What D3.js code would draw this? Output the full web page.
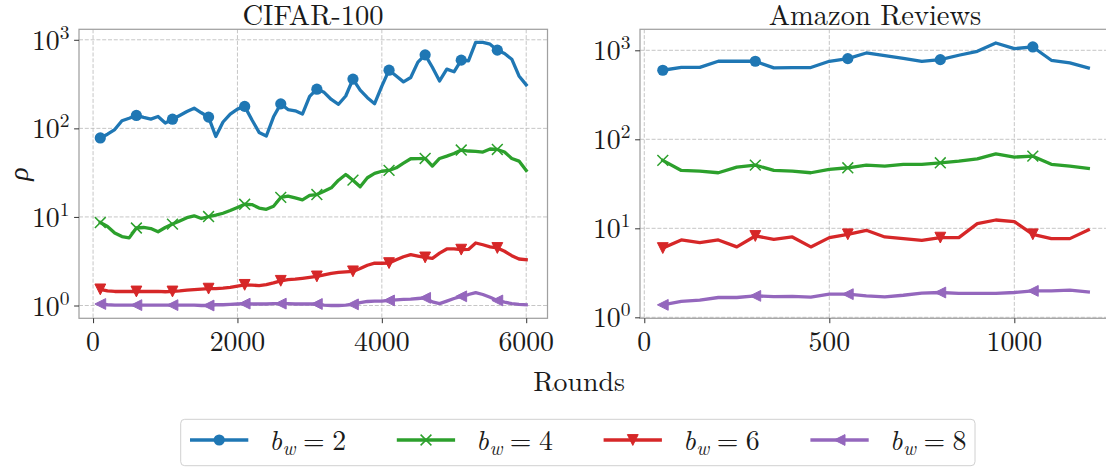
<!DOCTYPE html>
<html><head><meta charset="utf-8">
<script src="https://cdn.jsdelivr.net/npm/d3@7"></script>
<style>
body{margin:0;background:#fff}
svg{display:block}
text{font-family:"Latin Modern Roman","CMU Serif","Liberation Serif",serif;fill:#1a1a1a}
</style>
</head><body>
<svg id="chart" width="1106" height="467"></svg>
<script>
// ---------------- data ----------------
const cifarRounds = [100,200,300,400,500,600,700,800,900,1000,1100,1200,1300,1400,1500,1600,1700,1800,1900,2000,
  2100,2200,2300,2400,2500,2600,2700,2800,2900,3000,3100,3200,3300,3400,3500,3600,3700,3800,3900,4000,
  4100,4200,4300,4400,4500,4600,4700,4800,4900,5000,5100,5200,5300,5400,5500,5600,5700,5800,5900,6000];
const cifarB2 = [78,86,97,122,130,140,133,127,136,115,127,140,155,169,150,134,81,118,145,165,
  177,125,90,82,135,189,163,158,145,230,277,255,212,187,232,360,270,222,190,300,
  454,390,335,375,560,676,490,343,466,435,589,578,933,933,893,764,700,604,391,310];
const cifarB4 = [8.65,7.8,6.6,6.0,5.8,7.5,7.6,7.4,6.8,7.6,8.3,9.0,9.8,10.3,9.6,10.1,10.5,11.0,11.8,12.8,
  13.9,13.8,12.6,12.2,13.2,16.6,17.2,16.4,15.6,17.5,17.9,19.5,21.3,26.0,30.1,26.0,21.9,27.7,31.0,32.8,
  33.5,35.9,40.5,45.4,45.5,45.7,37.5,45.7,48.6,52.0,56.9,55.5,55.0,54.0,58.5,57.8,54.0,45.7,42.7,33.5];
const cifarB6 = [1.52,1.46,1.44,1.44,1.44,1.44,1.44,1.44,1.44,1.43,1.44,1.46,1.49,1.51,1.53,1.55,1.55,1.57,1.60,1.66,
  1.71,1.70,1.68,1.72,1.80,1.90,1.96,1.98,2.03,2.08,2.13,2.22,2.30,2.36,2.40,2.43,2.62,2.85,3.01,3.00,
  3.01,3.28,3.55,3.75,3.62,3.49,3.40,3.90,4.35,4.36,4.27,4.30,5.08,4.85,4.60,4.46,4.10,3.65,3.35,3.29];
const cifarB8 = [1.04,1.02,1.01,1.01,1.01,1.01,1.01,1.01,1.01,1.01,1.01,1.01,1.01,1.01,1.00,1.00,1.02,1.02,1.03,1.04,
  1.05,1.04,1.04,1.04,1.05,1.05,1.05,1.04,1.04,1.04,1.04,1.01,1.00,1.00,1.01,1.03,1.08,1.11,1.12,1.12,
  1.14,1.16,1.17,1.18,1.20,1.22,1.10,1.05,1.12,1.20,1.27,1.33,1.40,1.33,1.24,1.14,1.09,1.05,1.03,1.02];

const amazonRounds = [50,100,150,200,250,300,350,400,450,500,550,600,650,700,750,800,850,900,950,1000,1050,1100,1150,1200];
const amazonB2 = [597,644,644,753,753,753,634,640,640,753,807,933,870,810,753,785,880,975,1208,1044,1090,773,721,634];
const amazonB4 = [57.9,44.7,43.9,42.1,48.7,51.3,44.7,43.9,42.1,45.9,47.9,51.3,50.0,52.3,52.3,54.5,56.9,60.4,68.7,63.1,64.7,52.3,50.0,47.1];
const amazonB6 = [6.0,7.4,6.9,7.4,6.18,8.2,7.53,8.0,6.18,7.86,8.57,9.5,8.0,7.66,7.33,7.86,7.86,11.3,12.4,11.9,8.57,7.66,7.66,9.58];
const amazonB8 = [1.38,1.51,1.56,1.67,1.67,1.74,1.71,1.72,1.69,1.82,1.82,1.74,1.70,1.77,1.87,1.90,1.86,1.86,1.86,1.90,1.98,1.98,2.02,1.93];

const seriesLabels = ["2","4","6","8"];
const seriesColors = ["#1f77b4","#2ca02c","#d62728","#9467bd"];
const seriesMarkers = ["circle","x","tri_down","tri_left"];
const cifarTicksX = [0,2000,4000,6000];
const amazonTicksX = [0,500,1000];
const logTicks = [1,10,100,1000];
const logTickExp = ["0","1","2","3"];
const panelTitles = ["CIFAR-100","Amazon Reviews"];

// ---------------- drawing ----------------
const svg = d3.select("#chart");
const FS = 27.8;

function drawMarker(g, type, cx, cy, color){
  const s = 5.4;
  if(type==="circle"){
    g.append("circle").attr("cx",cx).attr("cy",cy).attr("r",5.6).attr("fill",color);
  } else if(type==="x"){
    g.append("path").attr("d",`M${cx-s},${cy-s}L${cx+s},${cy+s}M${cx-s},${cy+s}L${cx+s},${cy-s}`)
      .attr("stroke",color).attr("stroke-width",1.5).attr("fill","none");
  } else if(type==="tri_down"){
    g.append("path").attr("d",`M${cx},${cy+s}L${cx-s},${cy-s}L${cx+s},${cy-s}Z`)
      .attr("fill",color).attr("stroke",color).attr("stroke-width",1);
  } else if(type==="tri_left"){
    g.append("path").attr("d",`M${cx-s},${cy}L${cx+s},${cy-s}L${cx+s},${cy+s}Z`)
      .attr("fill",color).attr("stroke",color).attr("stroke-width",1);
  }
}

const panels = [
  {id:0, x0:79, x1:547.5, y0:29.3, y1:318.3, xd:[-195,6295], yd:[Math.pow(10,-0.1445),Math.pow(10,3.1185)],
   rounds:cifarRounds, series:[cifarB2,cifarB4,cifarB6,cifarB8], ticks:cifarTicksX, tc:313},
  {id:1, x0:640, x1:1109.6, y0:29.3, y1:318.3, xd:[-11.6,1257.5], yd:[Math.pow(10,-0.011),Math.pow(10,3.236)],
   rounds:amazonRounds, series:[amazonB2,amazonB4,amazonB6,amazonB8], ticks:amazonTicksX, tc:875}
];

const defs = svg.append("defs");

panels.forEach(p=>{
  const x = d3.scaleLinear().domain(p.xd).range([p.x0,p.x1]);
  const y = d3.scaleLog().domain(p.yd).range([p.y1,p.y0]);
  const g = svg.append("g");

  defs.append("clipPath").attr("id","clip"+p.id).append("rect")
    .attr("x",p.x0).attr("y",p.y0).attr("width",p.x1-p.x0).attr("height",p.y1-p.y0);

  // grid
  const grid = g.append("g").attr("clip-path",`url(#clip${p.id})`);
  grid.selectAll("line.gx").data(p.ticks).join("line")
    .attr("x1",d=>x(d)).attr("x2",d=>x(d)).attr("y1",p.y0).attr("y2",p.y1)
    .attr("stroke","#b8b8b8").attr("stroke-width",0.8).attr("stroke-dasharray","4,1.8");
  grid.selectAll("line.gy").data(logTicks).join("line")
    .attr("x1",p.x0).attr("x2",p.x1).attr("y1",d=>y(d)).attr("y2",d=>y(d))
    .attr("stroke","#b8b8b8").attr("stroke-width",0.8).attr("stroke-dasharray","4,1.8");

  // series
  const plot = g.append("g").attr("clip-path",`url(#clip${p.id})`);
  p.series.forEach((vals,si)=>{
    const pts = p.rounds.map((r,i)=>[r,vals[i]]);
    plot.append("path").datum(pts)
      .attr("d",d3.line().x(d=>x(d[0])).y(d=>y(d[1])))
      .attr("fill","none").attr("stroke",seriesColors[si]).attr("stroke-width",3.3)
      .attr("stroke-linejoin","round").attr("stroke-linecap","square");
    pts.forEach((d,i)=>{ if(i%5===0) drawMarker(plot, seriesMarkers[si], x(d[0]), y(d[1]), seriesColors[si]); });
  });

  // spines
  g.append("rect").attr("x",p.x0).attr("y",p.y0).attr("width",p.x1-p.x0).attr("height",p.y1-p.y0)
    .attr("fill","none").attr("stroke","#a0a0a0").attr("stroke-width",1.25);

  // axes ticks
  const ax = g.append("g").attr("transform",`translate(0,${p.y1})`)
    .call(d3.axisBottom(x).tickValues(p.ticks).tickSize(4.9).tickSizeOuter(0).tickFormat(""));
  ax.select(".domain").remove();
  ax.selectAll(".tick line").attr("stroke","#333").attr("stroke-width",1);
  p.ticks.forEach(t=>{
    g.append("text").attr("x",x(t)).attr("y",350.5).attr("text-anchor","middle")
      .attr("font-size",FS).text(t);
  });
  const ay = g.append("g").attr("transform",`translate(${p.x0},0)`)
    .call(d3.axisLeft(y).tickValues(logTicks).tickSize(4.9).tickSizeOuter(0).tickFormat(""));
  ay.select(".domain").remove();
  ay.selectAll(".tick line").attr("stroke","#333").attr("stroke-width",1);
  logTicks.forEach((t,i)=>{
    const tx = g.append("text").attr("x",p.x0-9.5).attr("y",y(t)+10).attr("text-anchor","end")
      .attr("font-size",FS);
    tx.append("tspan").text("10");
    tx.append("tspan").attr("font-size",19.5).attr("dy",-11).text(logTickExp[i]);
  });

  // title
  g.append("text").attr("x",p.tc).attr("y",24.5)
    .attr("text-anchor","middle").attr("font-size",28.5)
    .text(panelTitles[p.id]);
});

// axis labels
svg.append("text").attr("x",579).attr("y",391).attr("text-anchor","middle").attr("font-size",FS)
  .text("Rounds");
svg.append("text").attr("transform","translate(28,174) rotate(-90)").attr("text-anchor","middle")
  .attr("font-size",FS).attr("font-style","italic").text("ρ");

// legend
const lg = svg.append("g");
lg.append("rect").attr("x",180.7).attr("y",419.3).attr("width",794.3).attr("height",46.4)
  .attr("rx",4).attr("fill","#fff").attr("fill-opacity",0.8).attr("stroke","#d0d0d0").attr("stroke-width",1);
seriesLabels.forEach((lab,i)=>{
  const hx = 190 + i*206.8;
  lg.append("line").attr("x1",hx).attr("x2",hx+58.3).attr("y1",440).attr("y2",440)
    .attr("stroke",seriesColors[i]).attr("stroke-width",3.3);
  drawMarker(lg, seriesMarkers[i], hx+29.2, 440, seriesColors[i]);
  const t = lg.append("text").attr("x",hx+79.3).attr("y",450).attr("font-size",FS);
  t.append("tspan").attr("font-style","italic").text("b");
  t.append("tspan").attr("font-style","italic").attr("font-size",19.5).attr("dy",5).attr("dx",0.5).text("w");
  t.append("tspan").attr("dy",-5).attr("dx",7.5).text("=");
  t.append("tspan").attr("dx",7.5).text(lab);
});
</script>
</body></html>
